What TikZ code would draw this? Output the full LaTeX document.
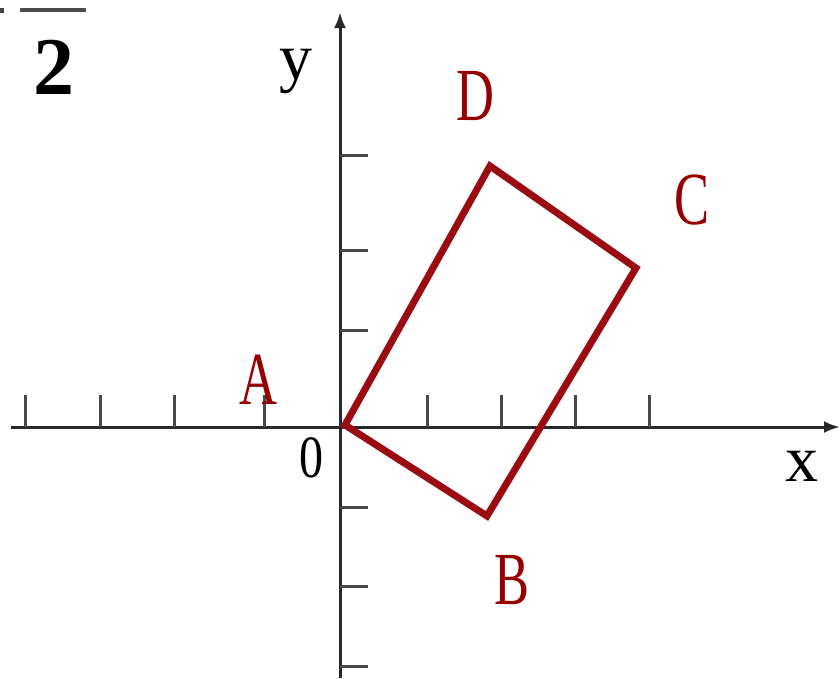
\documentclass[tikz,border=0pt]{standalone}
\usepackage{fontspec}
\setmainfont{Liberation Serif}
\usetikzlibrary{arrows.meta}
\definecolor{rectred}{RGB}{155,12,18}
\definecolor{labred}{RGB}{150,0,0}
\definecolor{axisgray}{RGB}{40,40,40}
\tikzset{
  axisline/.style={draw=axisgray, line width=3pt, -{Latex[length=16pt,width=12pt]}},
  tickline/.style={draw=axisgray!85, line width=3pt},
  redlab/.style={text=labred, inner sep=0pt, font=\fontsize{75}{75}\selectfont, xscale=0.7},
  blklab/.style={text=black, inner sep=0pt, font=\fontsize{66}{66}\selectfont},
  rectline/.style={draw=rectred, line width=7pt, line join=miter}
}
\begin{document}
\begin{tikzpicture}[x=1pt,y=-1pt]
\useasboundingbox (0,0) rectangle (840,678);
% top-left fragment
\fill[black!75] (0,8) rectangle (4,13);
\draw[black!70, line width=4pt] (20,10) -- (86,10);
\node[inner sep=0pt, font=\fontsize{82}{82}\selectfont\bfseries] (two) at (54,67) {2};
% axes
\coordinate (xs) at (11,427);
\coordinate (xe) at (840,427);
\coordinate (ys) at (340,678);
\coordinate (ye) at (340,12);
\draw[axisline] (xs) -- (xe);
\draw[axisline] (ys) -- (ye);
% x ticks
\foreach \t in {25,100,174,264,427,501,575,649}{
  \draw[tickline] (\t,427) -- (\t,395);
}
% y ticks
\foreach \t in {155,250,330,507,586,666}{
  \draw[tickline] (340,\t) -- (368,\t);
}
% rectangle
\coordinate (A) at (345,425);
\coordinate (B) at (487,516);
\coordinate (C) at (636,268);
\coordinate (D) at (490,166);
\draw[rectline] (A) -- (B) -- (C) -- (D) -- cycle;
% labels
\node[redlab] (lA) at (258,380) {A};
\node[redlab] (lB) at (512,580) {B};
\node[redlab] (lC) at (692,200) {C};
\node[redlab] (lD) at (475,96) {D};
\node[blklab, xscale=0.8, font=\fontsize{60}{60}\selectfont] (lO) at (311,458) {0};
\node[blklab] (lx) at (802,466) {x};
\node[blklab] (ly) at (296,71) {y};
\end{tikzpicture}
\end{document}
